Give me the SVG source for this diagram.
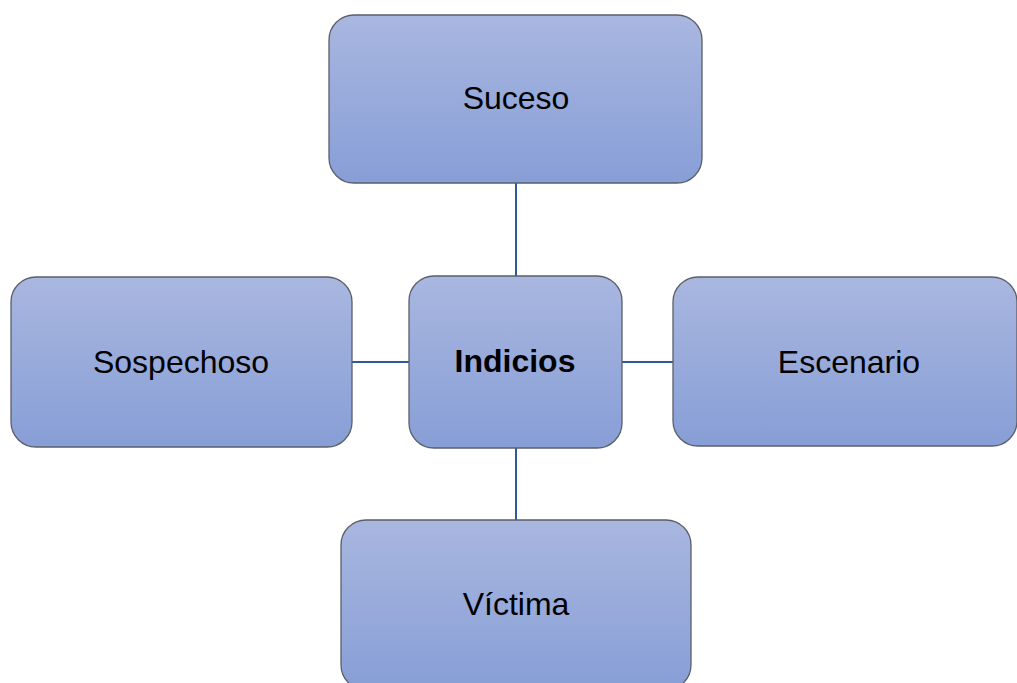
<svg xmlns="http://www.w3.org/2000/svg" width="1017" height="683" viewBox="0 0 1017 683">
<defs>
<linearGradient id="g" x1="0" y1="0" x2="0" y2="1">
<stop offset="0" stop-color="#a9b7e0"/>
<stop offset="1" stop-color="#879ed6"/>
</linearGradient>
<style>
.box{fill:url(#g);stroke:#5a5f6a;stroke-width:1.3}
.t{font-family:"Liberation Sans",Arial,sans-serif;font-size:32px;fill:#000;text-anchor:middle}
.b{font-weight:bold}
.c{stroke:#34579a;stroke-width:2;fill:none}
</style>
</defs>
<rect width="1017" height="683" fill="#fff"/>
<g id="connectors">
<line class="c" x1="516" y1="183" x2="516" y2="276"/>
<line class="c" x1="516" y1="448" x2="516" y2="520"/>
<line class="c" x1="352" y1="362" x2="409" y2="362"/>
<line class="c" x1="622" y1="362" x2="673" y2="362"/>
</g>
<g id="suceso">
<rect class="box" x="329" y="15" width="373" height="168" rx="25"/>
<text class="t" x="516" y="109">Suceso</text>
</g>
<g id="sospechoso">
<rect class="box" x="11" y="277" width="341" height="170" rx="25"/>
<text class="t" x="181" y="373">Sospechoso</text>
</g>
<g id="indicios">
<rect class="box" x="409" y="276" width="213" height="172" rx="25"/>
<text class="t b" x="515" y="372">Indicios</text>
</g>
<g id="escenario">
<rect class="box" x="673" y="277" width="344" height="169" rx="25"/>
<text class="t" x="849" y="373">Escenario</text>
</g>
<g id="victima">
<rect class="box" x="341" y="520" width="350" height="170" rx="25"/>
<text class="t" x="516" y="615">Víctima</text>
</g>
</svg>
